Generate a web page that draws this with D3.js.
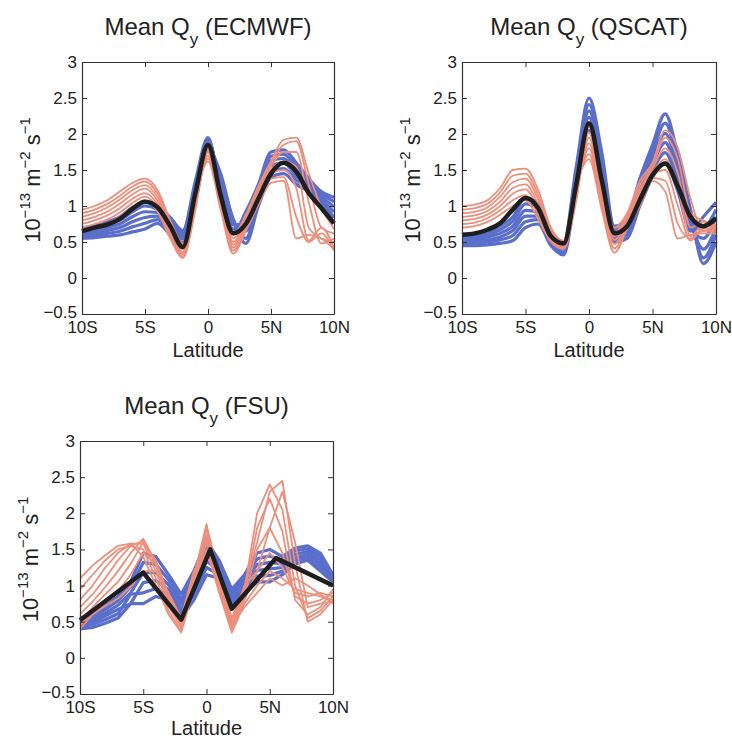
<!DOCTYPE html>
<html>
<head>
<meta charset="utf-8">
<script src="https://cdn.jsdelivr.net/npm/d3@7"></script>
<style>
  body { margin: 0; background: #fff; }
  svg { font-family: "Liberation Sans", Arial, sans-serif; }
</style>
</head>
<body>
<div id="wrapper"></div>
<script>
// latitude grid (deg, negative = south)
const lat = [-10, -9, -8, -7, -6, -5, -4, -3, -2, -1, 0, 1, 2, 3, 4, 5, 6, 7, 8, 9, 10];
const xTicks = [-10, -5, 0, 5, 10];
const xTickLabels = ["10S", "5S", "0", "5N", "10N"];
const yTicks = [-0.5, 0, 0.5, 1, 1.5, 2, 2.5, 3];
const yTickLabels = ["\u22120.5", "0", "0.5", "1", "1.5", "2", "2.5", "3"];

// ECMWF
const ecmwfBlue = [
  [0.55,0.56,0.58,0.60,0.64,0.68,0.76,0.60,0.44,1.05,1.78,1.45,0.80,0.48,1.00,1.40,1.45,1.30,1.20,1.00,0.76],
  [0.58,0.59,0.62,0.65,0.71,0.76,0.81,0.65,0.49,1.10,1.82,1.40,0.82,0.55,1.06,1.48,1.52,1.36,1.24,1.05,0.84],
  [0.61,0.62,0.66,0.70,0.78,0.84,0.86,0.70,0.54,1.16,1.86,1.34,0.78,0.65,1.12,1.56,1.60,1.42,1.28,1.09,0.92],
  [0.64,0.65,0.70,0.75,0.85,0.92,0.91,0.75,0.58,1.22,1.90,1.28,0.74,0.75,1.18,1.63,1.66,1.48,1.31,1.13,0.99],
  [0.67,0.69,0.74,0.80,0.92,1.00,0.95,0.80,0.62,1.28,1.93,1.22,0.68,0.84,1.24,1.69,1.72,1.54,1.34,1.17,1.06],
  [0.70,0.72,0.78,0.85,0.98,1.06,1.00,0.84,0.66,1.35,1.95,1.16,0.63,0.92,1.30,1.75,1.78,1.60,1.38,1.20,1.12]
];
const ecmwfRed = [
  [0.95,1.00,1.08,1.20,1.32,1.38,1.22,0.80,0.48,1.15,1.62,0.95,0.34,0.65,1.02,1.32,1.35,0.55,0.60,0.55,0.40],
  [0.90,0.95,1.03,1.14,1.27,1.34,1.17,0.76,0.44,1.12,1.66,0.99,0.38,0.69,1.06,1.38,1.40,0.85,0.50,0.62,0.38],
  [0.85,0.90,0.98,1.09,1.22,1.29,1.12,0.72,0.40,1.08,1.70,1.03,0.42,0.73,1.10,1.45,1.50,1.25,0.52,0.70,0.42],
  [0.80,0.85,0.92,1.03,1.16,1.24,1.07,0.68,0.36,1.05,1.74,1.07,0.46,0.77,1.14,1.50,1.62,1.55,0.70,0.55,0.50],
  [0.75,0.80,0.87,0.97,1.10,1.18,1.02,0.64,0.33,1.02,1.78,1.11,0.50,0.80,1.18,1.55,1.75,1.75,1.05,0.48,0.55],
  [0.70,0.75,0.81,0.91,1.04,1.13,0.97,0.59,0.30,0.98,1.83,1.15,0.55,0.84,1.23,1.58,1.85,1.90,1.30,0.70,0.62],
  [0.65,0.70,0.76,0.85,0.98,1.08,0.92,0.55,0.28,0.95,1.88,1.20,0.60,0.88,1.28,1.62,1.92,1.95,1.45,0.98,0.68]
];
const ecmwfMean = [0.65,0.70,0.74,0.82,0.96,1.06,0.98,0.72,0.43,1.18,1.85,1.15,0.62,0.75,1.10,1.45,1.60,1.48,1.18,0.97,0.76];

// QSCAT
const qscatBlue = [
  [0.45,0.45,0.46,0.48,0.52,0.70,0.75,0.45,0.32,1.25,2.05,1.30,0.50,0.55,1.00,1.40,1.60,1.20,0.65,0.85,1.05],
  [0.48,0.48,0.50,0.53,0.59,0.78,0.81,0.49,0.36,1.31,2.14,1.39,0.54,0.60,1.08,1.49,1.74,1.30,0.68,0.70,0.95],
  [0.51,0.51,0.53,0.57,0.66,0.86,0.86,0.52,0.40,1.37,2.23,1.48,0.58,0.65,1.15,1.58,1.88,1.40,0.72,0.55,0.85],
  [0.54,0.54,0.57,0.62,0.72,0.94,0.91,0.55,0.43,1.43,2.32,1.57,0.62,0.70,1.23,1.67,2.01,1.50,0.78,0.40,0.70],
  [0.57,0.57,0.60,0.67,0.79,1.03,0.97,0.59,0.47,1.49,2.41,1.66,0.67,0.76,1.30,1.76,2.15,1.60,0.85,0.28,0.60],
  [0.60,0.60,0.64,0.72,0.85,1.12,1.02,0.62,0.50,1.55,2.50,1.75,0.72,0.82,1.38,1.85,2.28,1.70,0.95,0.20,0.50]
];
const qscatRed = [
  [1.00,1.02,1.08,1.25,1.50,1.52,1.22,0.70,0.52,1.30,1.65,0.95,0.35,0.68,1.00,1.35,1.20,0.55,0.60,0.62,0.62],
  [0.95,0.97,1.03,1.19,1.42,1.45,1.15,0.66,0.50,1.26,1.72,1.01,0.41,0.72,1.06,1.39,1.35,0.75,0.55,0.66,0.64],
  [0.90,0.92,0.98,1.13,1.33,1.38,1.09,0.63,0.48,1.22,1.80,1.07,0.47,0.75,1.12,1.43,1.50,1.00,0.52,0.70,0.66],
  [0.85,0.87,0.93,1.06,1.25,1.30,1.02,0.60,0.46,1.19,1.87,1.13,0.53,0.79,1.18,1.47,1.65,1.25,0.58,0.74,0.68],
  [0.80,0.82,0.88,1.00,1.17,1.23,0.95,0.56,0.44,1.15,1.95,1.18,0.58,0.82,1.23,1.52,1.80,1.45,0.70,0.78,0.70],
  [0.75,0.77,0.83,0.94,1.08,1.15,0.88,0.53,0.42,1.11,2.02,1.24,0.64,0.86,1.29,1.56,1.95,1.65,0.90,0.80,0.72],
  [0.70,0.72,0.78,0.88,1.00,1.08,0.82,0.50,0.40,1.08,2.10,1.30,0.70,0.90,1.35,1.60,2.05,1.80,1.10,0.65,0.75]
];
const qscatMean = [0.60,0.62,0.67,0.76,0.95,1.11,0.97,0.58,0.48,1.30,2.15,1.36,0.62,0.72,1.08,1.43,1.59,1.27,0.85,0.72,0.83];

// FSU
const fsuBlue = [
  [0.40,0.42,0.48,0.55,0.75,0.75,0.85,0.80,0.55,0.80,1.15,1.10,0.70,0.90,1.05,1.05,1.15,1.30,1.35,1.20,1.05],
  [0.43,0.46,0.53,0.61,0.88,0.90,0.96,0.87,0.62,0.88,1.25,1.15,0.75,0.95,1.13,1.14,1.20,1.34,1.39,1.25,1.07],
  [0.46,0.50,0.58,0.67,0.75,1.04,1.07,0.94,0.68,0.96,1.34,1.20,0.80,1.00,1.21,1.23,1.25,1.38,1.43,1.30,1.09],
  [0.49,0.53,0.62,0.73,0.90,1.18,1.18,1.01,0.75,1.04,1.43,1.25,0.85,1.05,1.29,1.32,1.30,1.43,1.47,1.35,1.11],
  [0.52,0.57,0.67,0.79,0.98,1.32,1.29,1.08,0.81,1.12,1.52,1.30,0.90,1.10,1.37,1.41,1.35,1.48,1.51,1.40,1.13],
  [0.55,0.60,0.72,0.85,1.05,1.45,1.40,1.15,0.88,1.20,1.62,1.35,0.95,1.15,1.45,1.50,1.40,1.52,1.55,1.45,1.15]
];
const fsuRed = [
  [1.10,1.28,1.42,1.55,1.58,1.40,1.00,0.60,0.35,0.95,1.50,0.90,0.35,0.75,1.00,1.20,1.10,0.95,0.90,0.85,0.80],
  [0.95,1.15,1.35,1.50,1.55,1.50,1.10,0.65,0.38,1.00,1.60,0.95,0.40,0.80,1.20,1.45,1.25,0.90,0.85,0.90,0.85],
  [0.80,1.00,1.25,1.45,1.58,1.58,1.20,0.72,0.42,1.05,1.70,1.00,0.45,0.85,1.50,1.80,1.45,0.85,0.75,0.80,0.90],
  [0.70,0.88,1.10,1.35,1.55,1.62,1.28,0.78,0.45,1.10,1.80,1.05,0.50,0.90,1.80,2.20,1.75,0.80,0.60,0.70,0.95],
  [0.60,0.78,0.98,1.20,1.45,1.65,1.32,0.82,0.50,1.12,1.85,1.10,0.52,0.95,2.00,2.40,2.05,1.00,0.55,0.65,0.85],
  [0.50,0.70,0.88,1.05,1.30,1.60,1.35,0.86,0.52,1.15,1.78,1.15,0.55,0.98,1.60,2.30,2.45,1.30,0.50,0.60,0.80],
  [0.45,0.64,0.78,0.92,1.15,1.45,1.30,0.88,0.54,1.18,1.65,1.18,0.50,1.00,1.20,1.80,2.30,1.60,0.70,0.75,0.78],
  [0.40,0.60,0.72,0.82,0.98,1.20,1.20,0.90,0.55,1.20,1.45,1.20,0.45,0.70,0.90,1.10,1.00,1.10,1.00,0.88,0.75]
];
const fsuMeanLat = [-10, -5, -2, 0.3, 2, 5.5, 10];
const fsuMean = [0.52, 1.18, 0.53, 1.50, 0.68, 1.38, 1.00];

const colors = { blue: "#5a6ecb", red: "#ec8f7c", mean: "#1e1e1e", axis: "#333" };

const panels = [
  { name: "ECMWF", blue: ecmwfBlue, red: ecmwfRed, meanLat: lat, mean: ecmwfMean,
    left: 82, top: 62, width: 252, height: 252, xlabelOffset: 43, curve: d3.curveMonotoneX },
  { name: "QSCAT", blue: qscatBlue, red: qscatRed, meanLat: lat, mean: qscatMean,
    left: 462, top: 62, width: 254, height: 252, xlabelOffset: 43, curve: d3.curveMonotoneX },
  { name: "FSU", blue: fsuBlue, red: fsuRed, meanLat: fsuMeanLat, mean: fsuMean,
    left: 80, top: 441, width: 253, height: 253, xlabelOffset: 41, curve: d3.curveLinear }
];

const svg = d3.select("#wrapper")
  .append("svg")
  .attr("width", 732)
  .attr("height", 739);

panels.forEach(drawPanel);

function drawPanel(p) {
  const xScale = d3.scaleLinear().domain([-10, 10]).range([0, p.width]);
  const yScale = d3.scaleLinear().domain([-0.5, 3]).range([p.height, 0]);

  const g = svg.append("g").attr("transform", `translate(${p.left},${p.top})`);

  const line = xs => d3.line()
    .x((d, i) => xScale(xs[i]))
    .y(d => yScale(d))
    .curve(p.curve);

  g.selectAll("path.blue")
    .data(p.blue)
    .join("path")
    .attr("class", "blue")
    .attr("d", line(lat))
    .attr("fill", "none")
    .attr("stroke", colors.blue)
    .attr("stroke-width", 3.2)
    .attr("stroke-linejoin", "round");

  g.selectAll("path.red")
    .data(p.red)
    .join("path")
    .attr("class", "red")
    .attr("d", line(lat))
    .attr("fill", "none")
    .attr("stroke", colors.red)
    .attr("stroke-width", 1.8)
    .attr("stroke-linejoin", "round");

  g.append("path")
    .attr("d", line(p.meanLat)(p.mean))
    .attr("fill", "none")
    .attr("stroke", colors.mean)
    .attr("stroke-width", 4.5)
    .attr("stroke-linejoin", "round");

  // box axes, ticks pointing in
  const xBottom = d3.axisBottom(xScale).tickValues(xTicks)
    .tickFormat((d, i) => xTickLabels[i]).tickSize(-5).tickSizeOuter(0).tickPadding(7);
  const xTop = d3.axisTop(xScale).tickValues(xTicks)
    .tickFormat("").tickSize(-5).tickSizeOuter(0);
  const yLeft = d3.axisLeft(yScale).tickValues(yTicks)
    .tickFormat((d, i) => yTickLabels[i]).tickSize(-5).tickSizeOuter(0).tickPadding(5);
  const yRight = d3.axisRight(yScale).tickValues(yTicks)
    .tickFormat("").tickSize(-5).tickSizeOuter(0);

  const axes = [
    g.append("g").attr("transform", `translate(0,${p.height})`).call(xBottom),
    g.append("g").call(xTop),
    g.append("g").call(yLeft),
    g.append("g").attr("transform", `translate(${p.width},0)`).call(yRight)
  ];
  axes.forEach(a => {
    a.select(".domain").attr("stroke", colors.axis).attr("stroke-width", 1.2);
    a.selectAll(".tick line").attr("stroke", colors.axis);
    a.selectAll(".tick text")
      .attr("fill", "#222")
      .style("font-family", "'Liberation Sans', Arial, sans-serif")
      .style("font-size", "17px");
  });
  // keep the lowest y label clear of the x labels
  axes[2].selectAll(".tick text").filter(d => d < 0).attr("dy", "0.2em");

  // title
  const title = g.append("text")
    .attr("x", p.width / 2)
    .attr("y", -27)
    .attr("text-anchor", "middle")
    .attr("fill", "#222")
    .style("font-size", "24px");
  title.append("tspan").text("Mean Q");
  title.append("tspan").attr("dy", 10).style("font-size", "17px").text("y");
  title.append("tspan").attr("dy", -10).text(` (${p.name})`);

  // x label
  g.append("text")
    .attr("x", p.width / 2)
    .attr("y", p.height + p.xlabelOffset)
    .attr("text-anchor", "middle")
    .attr("fill", "#222")
    .style("font-size", "20px")
    .text("Latitude");

  // y label with superscripts
  const yl = g.append("text")
    .attr("transform", `translate(${-42},${p.height / 2 - 8}) rotate(-90)`)
    .attr("text-anchor", "middle")
    .attr("fill", "#222")
    .style("font-size", "22px");
  yl.append("tspan").text("10");
  yl.append("tspan").attr("dy", -10).style("font-size", "15px").text("\u221213");
  yl.append("tspan").attr("dy", 10).text(" m");
  yl.append("tspan").attr("dy", -10).style("font-size", "15px").text("\u22122");
  yl.append("tspan").attr("dy", 10).text(" s");
  yl.append("tspan").attr("dy", -10).style("font-size", "15px").text("\u22121");
}
</script>
</body>
</html>
